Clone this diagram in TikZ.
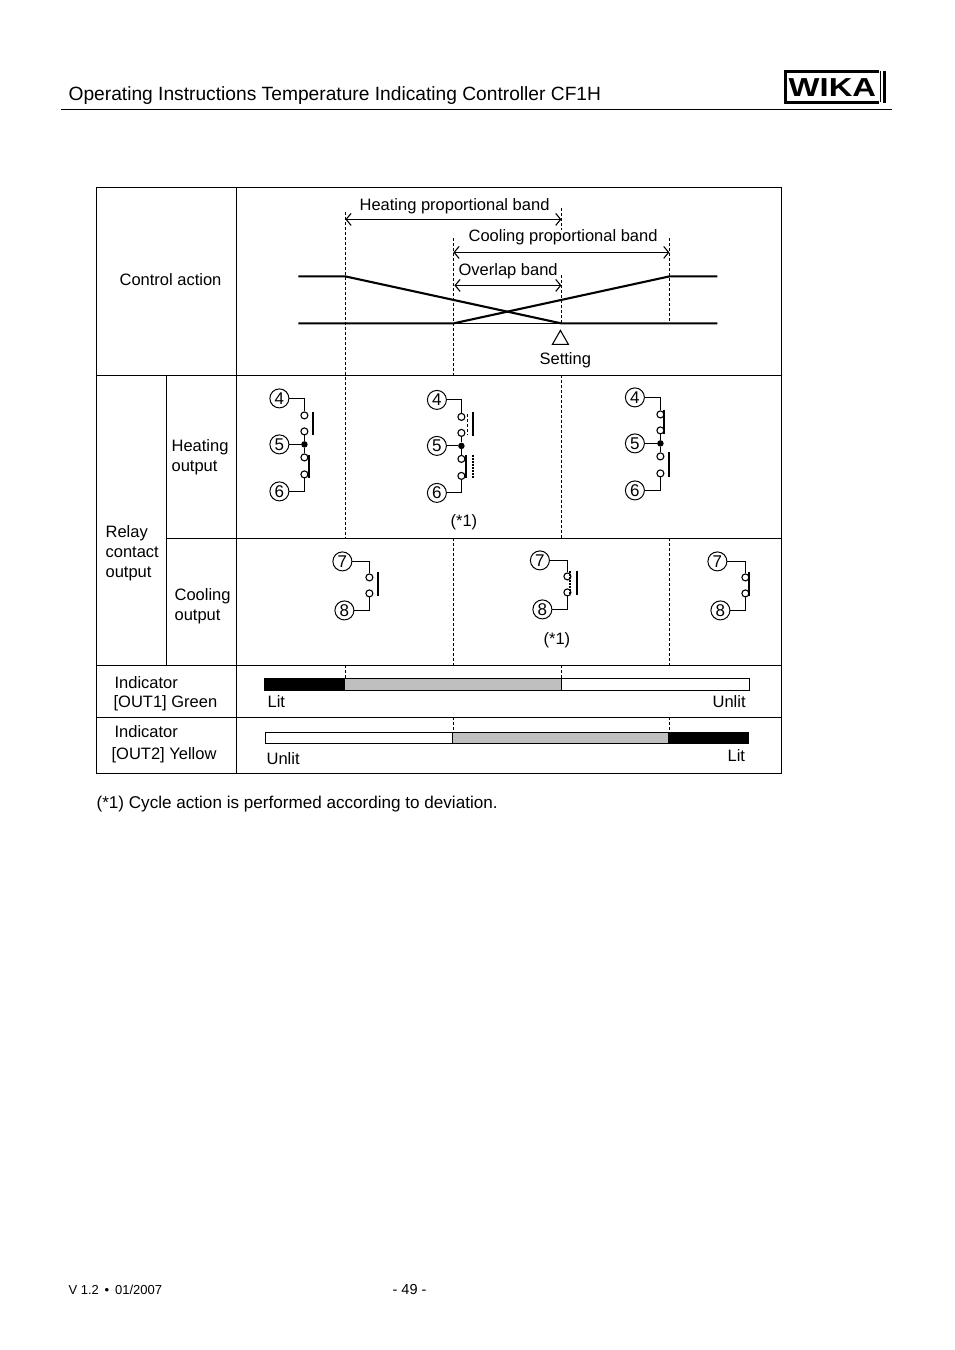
\documentclass[tikz,border=0pt]{standalone}
\usepackage{fontspec}
\setmainfont{Liberation Sans}
\usetikzlibrary{arrows.meta}
\begin{document}
\begin{tikzpicture}[
    x=1pt, y=-1pt,
    font=\fontsize{16.5}{18}\selectfont,
    txt/.style={anchor=base west, inner sep=0pt},
    frameline/.style={line width=1.1pt},
    guide/.style={densely dashed, line width=1.2pt},
    curve/.style={line width=2.1pt},
    band/.style={{Straight Barb[length=5pt,width=12pt]}-{Straight Barb[length=5pt,width=12pt]}, line width=1.1pt},
    term/.style={draw, circle, minimum size=19pt, inner sep=0pt, line width=1pt, font=\fontsize{17}{17}\selectfont},
    cont/.style={draw, circle, fill=white, minimum size=7pt, inner sep=0pt, line width=1.1pt},
    joint/.style={fill, circle, minimum size=6.5pt, inner sep=0pt},
    wire/.style={line width=1.1pt},
    arm/.style={line width=2pt},
    armdash/.style={line width=2pt, densely dotted}
  ]
  \useasboundingbox[fill=white] (-0.4,-0.4) rectangle (953.6,1349.6);
  % page head
  \node[txt, font=\fontsize{19.2}{22}\selectfont] (title) at (68,100) {Operating Instructions Temperature Indicating Controller CF1H};
  \draw[frameline] (61,109) -- (892,109);
  \draw[line width=3pt] (879,71) -- (785,71) -- (785,102) -- (879,102);
  \draw[line width=3pt] (884,71) -- (884,103);
  \draw[line width=1.4pt] (880,71) -- (880,102);
  \node[inner sep=0pt, font=\fontsize{26}{26}\selectfont\bfseries] (logo) at (832,87) {\scalebox{1.26}[1]{WIKA}};
  % table
  \draw[frameline] (96,187) rectangle (781,773);
  \draw[frameline] (236,187) -- (236,773);
  \draw[frameline] (166,375) -- (166,665);
  \draw[frameline] (96,375) -- (781,375);
  \draw[frameline] (166,538) -- (781,538);
  \draw[frameline] (96,665) -- (781,665);
  \draw[frameline] (96,717) -- (781,717);
  % left column
  \node[txt] (ctrl) at (119,285) {Control action};
  \node[txt] (heat) at (171,451) {Heating};
  \node[txt] (heatb) at (171,471) {output};
  \node[txt] (relay) at (105,537) {Relay};
  \node[txt] (relayb) at (105,557) {contact};
  \node[txt] (relayc) at (105,577) {output};
  \node[txt] (cool) at (174,600) {Cooling};
  \node[txt] (coolb) at (174,620) {output};
  \node[txt] (inda) at (114,688) {Indicator};
  \node[txt] (out1) at (113,707) {[OUT1] Green};
  \node[txt] (indb) at (114,737) {Indicator};
  \node[txt] (out2) at (111,759) {[OUT2] Yellow};
  % guides
  \foreach \x/\a/\b in {345/212/538,345/665/678,453/238/375,453/538/665,453/717/731,
                        561/208/230,561/275/323,561/375/538,561/665/678,
                        669/238/323,669/538/665,669/717/731}
    \draw[guide] (\x,\a) -- (\x,\b);
  % bands
  \coordinate (ha) at (345,219);
  \coordinate (hb) at (561,219);
  \coordinate (ca) at (453,252);
  \coordinate (cb) at (669,252);
  \coordinate (oa) at (454,285);
  \coordinate (ob) at (561,285);
  \draw[band] (ha) -- (hb);
  \draw[band] (ca) -- (cb);
  \draw[band] (oa) -- (ob);
  \node[txt] (hlab) at (359,210) {Heating proportional band};
  \node[txt] (clab) at (468,241) {Cooling proportional band};
  \node[txt] (olab) at (458,275) {Overlap band};
  % action curves
  \draw[curve] (298,276) -- (345,276) -- (561,323) -- (717,323);
  \draw[curve] (298,323) -- (453,323) -- (669,276) -- (717,276);
  \draw[wire] (453,323) -- (561,323);
  \draw[line width=1.1pt] (560,330) -- (552,344) -- (568,344) -- cycle;
  \node[txt] (setting) at (539,364) {Setting};
  % heating relays
  \foreach \r/\tx/\cx/\ty in {a/279/304/398,b/436.5/461/399.5,c/634.5/660/397} {
    \node[term] (t4\r) at (\tx,\ty) {4};
    \node[term] (t5\r) at (\tx,\ty+46) {5};
    \node[term] (t6\r) at (\tx,\ty+93) {6};
    \node[cont] (c4\r) at (\cx,\ty+17) {};
    \node[cont] (c5\r) at (\cx,\ty+33) {};
    \node[joint] (j\r) at (\cx,\ty+46) {};
    \node[cont] (c6\r) at (\cx,\ty+59) {};
    \node[cont] (c7\r) at (\cx,\ty+76) {};
    \draw[wire] (t4\r) -| (c4\r);
    \draw[wire] (c5\r) -- (j\r) -- (c6\r);
    \draw[wire] (t5\r) -- (j\r);
    \draw[wire] (t6\r) -| (c7\r);
  }
  \draw[arm] (313,412) -- (313,435);
  \draw[arm] (309,455) -- (309,478);
  \draw[arm] (473,412) -- (473,436);
  \draw[densely dashed, line width=0.8pt] (467,414) -- (467,435);
  \draw[arm] (466,455) -- (466,478);
  \draw[armdash] (473,455) -- (473,478);
  \draw[arm] (664,410) -- (664,434);
  \draw[arm] (669,452) -- (669,477);
  \node[txt] (notea) at (450,526) {(*1)};
  % cooling relays
  \foreach \r/\tx/\ux/\cx/\ty in {a/342/344/369/561,b/539.5/542/567/560,c/717/720/745/561} {
    \node[term] (t7\r) at (\tx,\ty) {7};
    \node[term] (t8\r) at (\ux,\ty+49) {8};
    \node[cont] (c8\r) at (\cx,\ty+16) {};
    \node[cont] (c9\r) at (\cx,\ty+32) {};
    \draw[wire] (t7\r) -| (c8\r);
    \draw[wire] (t8\r) -| (c9\r);
  }
  \draw[arm] (378,572) -- (378,596);
  \draw[arm] (577,571) -- (577,595);
  \draw[armdash] (570,571) -- (570,595);
  \draw[arm] (749,572) -- (749,596);
  \node[txt] (noteb) at (543,644) {(*1)};
  % indicator bars
  \draw[wire, fill=white] (561,678) rectangle (749,690);
  \fill[black!25] (345,678) rectangle (561,690);
  \draw[wire] (345,678) -- (561,678);
  \draw[line width=1.6pt] (345,690) -- (749,690);
  \draw[line width=1.6pt] (749,678) -- (749,690);
  \draw[line width=1.4pt] (561,678) -- (561,690);
  \fill (264,678) rectangle (345,691);
  \node[txt] (lita) at (267,707) {Lit};
  \node[txt] (unlita) at (712,707) {Unlit};
  \draw[wire, fill=white] (265,732) rectangle (452,743);
  \fill[black!25] (452,732) rectangle (668,743);
  \draw[wire] (265,732) -- (668,732);
  \draw[wire] (265,743) -- (668,743);
  \draw[line width=1.6pt] (265,732) -- (265,743);
  \draw[wire] (452,732) -- (452,743);
  \fill (668,731.5) rectangle (749,743.5);
  \node[txt] (unlitb) at (266,764) {Unlit};
  \node[txt] (litb) at (727,761) {Lit};
  % foot
  \node[txt, font=\fontsize{17.1}{18}\selectfont] (cycle) at (96,808) {(*1) Cycle action is performed according to deviation.};
  \node[txt, font=\fontsize{13}{14}\selectfont] (ver) at (68,1294) {V 1.2 \,•\, 01/2007};
  \node[txt, font=\fontsize{14.5}{14}\selectfont] (page) at (392,1294) {- 49 -};
\end{tikzpicture}
\end{document}
